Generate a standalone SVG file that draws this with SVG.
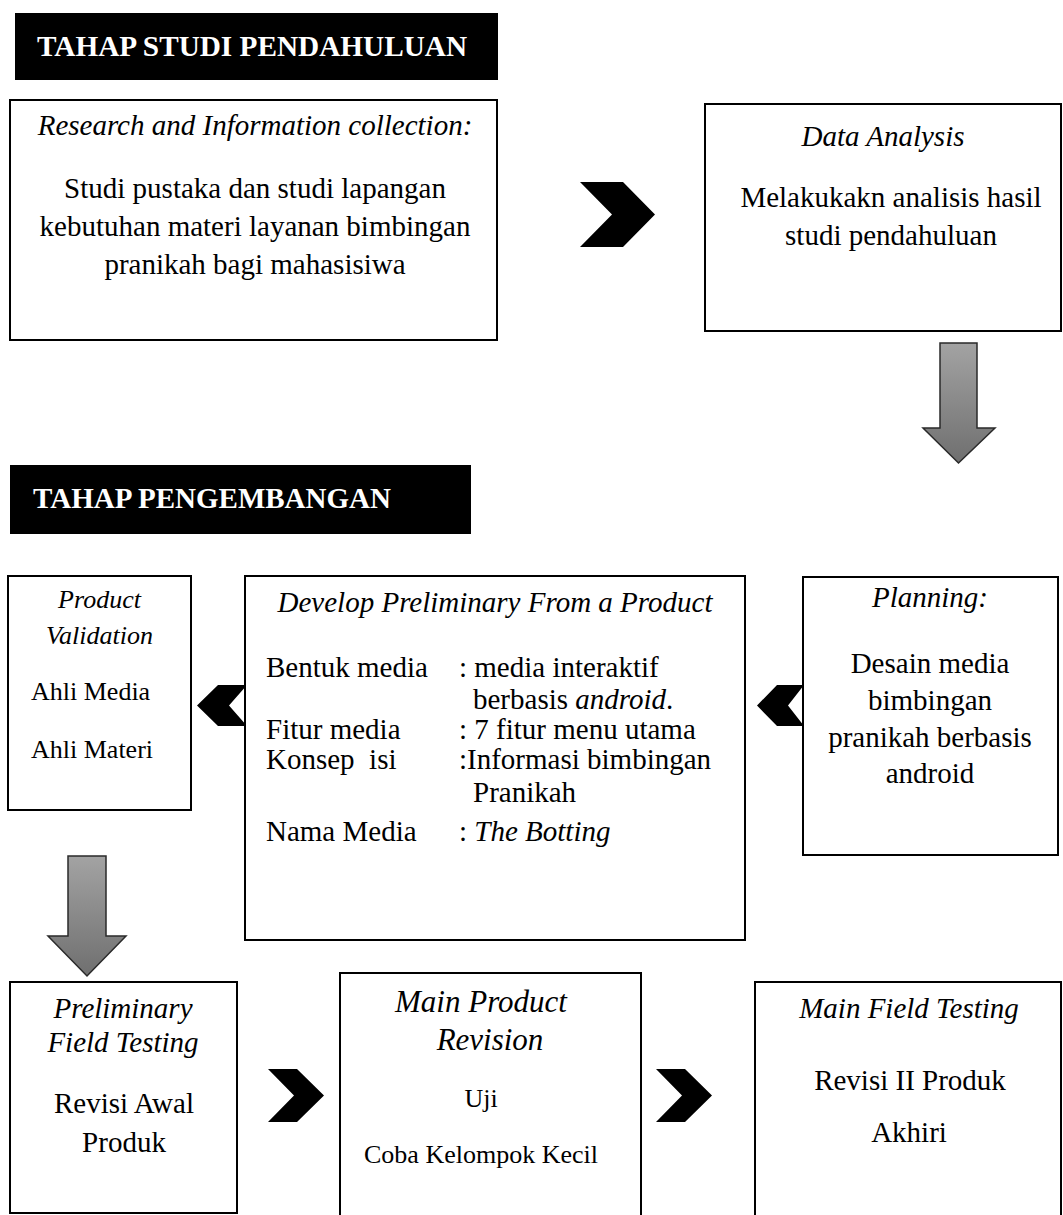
<svg xmlns="http://www.w3.org/2000/svg" width="1063" height="1215" viewBox="0 0 1063 1215">
<defs>
<linearGradient id="gray" x1="0" y1="0" x2="0" y2="1">
<stop offset="0" stop-color="#a3a3a3"/>
<stop offset="1" stop-color="#6f6f6f"/>
</linearGradient>
<style>
.box{fill:#fff;stroke:#000;stroke-width:2}
.hdr{fill:#000}
.ht{font-family:"Liberation Serif","Times New Roman",serif;font-weight:bold;font-size:29px;fill:#fff}
.t{font-family:"Liberation Serif","Times New Roman",serif;font-size:29px;fill:#000}
.s{font-size:26px}
.i{font-style:italic}
.c{text-anchor:middle}
.chev{fill:#000}
.garr{fill:url(#gray);stroke:#2a2a2a;stroke-width:1.5}
</style>
</defs>
<rect width="1063" height="1215" fill="#fff"/>

<g id="header-studi">
<rect class="hdr" x="15" y="13" width="483" height="67"/>
<text class="ht" x="37" y="56" textLength="430" lengthAdjust="spacingAndGlyphs">TAHAP STUDI PENDAHULUAN</text>
</g>

<g id="header-pengembangan">
<rect class="hdr" x="10" y="465" width="461" height="69"/>
<text class="ht" x="33" y="508">TAHAP PENGEMBANGAN</text>
</g>

<g id="connectors">
<polygon class="chev" points="580,182 623,182 655,214.5 623,247 580,247 612,214.5"/>
<path class="garr" d="M940,343 H977 V428 H995 L958.5,463 L923,428 H940 Z"/>
<polygon class="chev" points="197,705.5 218,685 247,685 229,705.5 247,726 218,726"/>
<polygon class="chev" points="757,705.5 777,685 804,685 788,705.5 804,726 777,726"/>
<path class="garr" d="M68,856 H106 V936 H126 L87,976 L48,936 H68 Z"/>
<polygon class="chev" points="268,1069 297,1069 324,1095.5 297,1122 268,1122 294,1095.5"/>
<polygon class="chev" points="656,1069 685,1069 712,1095.5 685,1122 656,1122 682,1095.5"/>
</g>

<g id="research">
<rect class="box" x="10" y="100" width="487" height="240"/>
<text class="t i c" x="255" y="135">Research and Information collection:</text>
<text class="t c" x="255" y="198">Studi pustaka dan studi lapangan</text>
<text class="t c" x="255" y="236">kebutuhan materi layanan bimbingan</text>
<text class="t c" x="255" y="274">pranikah bagi mahasisiwa</text>
</g>

<g id="data-analysis">
<rect class="box" x="705" y="104" width="356" height="227"/>
<text class="t i c" x="883" y="146">Data Analysis</text>
<text class="t c" x="891" y="207">Melakukakn analisis hasil</text>
<text class="t c" x="891" y="245">studi pendahuluan</text>
</g>

<g id="product-validation">
<rect class="box" x="8" y="576" width="183" height="234"/>
<text class="t s i c" x="99.5" y="608">Product</text>
<text class="t s i c" x="99.5" y="644">Validation</text>
<text class="t s" x="31" y="700">Ahli Media</text>
<text class="t s" x="31" y="758">Ahli Materi</text>
</g>

<g id="develop">
<rect class="box" x="245" y="576" width="500" height="364"/>
<text class="t i c" x="495" y="612">Develop Preliminary From a Product</text>
<text class="t" x="266" y="677">Bentuk media</text>
<text class="t" x="459" y="677">: media interaktif</text>
<text class="t" x="473" y="709">berbasis <tspan class="i">android</tspan>.</text>
<text class="t" x="266" y="739">Fitur media</text>
<text class="t" x="459" y="739">: 7 fitur menu utama</text>
<text class="t" x="266" y="769" style="white-space:pre">Konsep  isi</text>
<text class="t" x="459" y="769">:Informasi bimbingan</text>
<text class="t" x="473" y="802">Pranikah</text>
<text class="t" x="266" y="841">Nama Media</text>
<text class="t" x="459" y="841">: <tspan class="i">The Botting</tspan></text>
</g>

<g id="planning">
<rect class="box" x="803" y="577" width="255" height="278"/>
<text class="t i c" x="930" y="607">Planning:</text>
<text class="t c" x="930" y="673">Desain media</text>
<text class="t c" x="930" y="710">bimbingan</text>
<text class="t c" x="930" y="747">pranikah berbasis</text>
<text class="t c" x="930" y="783">android</text>
</g>

<g id="preliminary-field-testing">
<rect class="box" x="10" y="982" width="227" height="231"/>
<text class="t i c" x="123" y="1018">Preliminary</text>
<text class="t i c" x="123" y="1052">Field Testing</text>
<text class="t c" x="124" y="1113">Revisi Awal</text>
<text class="t c" x="124" y="1152">Produk</text>
</g>

<g id="main-product-revision">
<rect class="box" x="340" y="973" width="301" height="260"/>
<text class="t i c" x="481" y="1012" style="font-size:31px">Main Product</text>
<text class="t i c" x="490" y="1050" style="font-size:31px">Revision</text>
<text class="t s c" x="481" y="1107">Uji</text>
<text class="t s c" x="481" y="1163">Coba Kelompok Kecil</text>
</g>

<g id="main-field-testing">
<rect class="box" x="755" y="982" width="306" height="250"/>
<text class="t i c" x="909" y="1018">Main Field Testing</text>
<text class="t c" x="910" y="1090">Revisi II Produk</text>
<text class="t c" x="909" y="1142">Akhiri</text>
</g>
</svg>
